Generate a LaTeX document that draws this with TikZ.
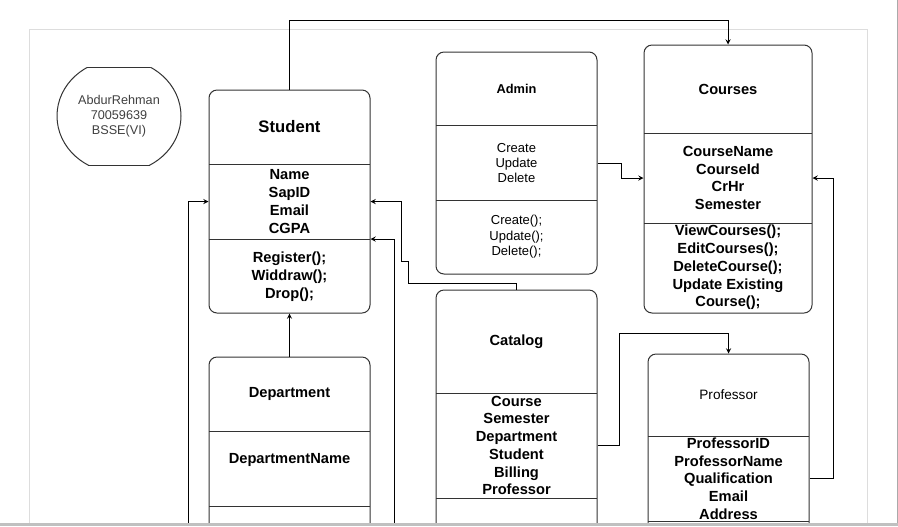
\documentclass[tikz,border=0pt]{standalone}
\usepackage{fontspec}
\setmainfont{Liberation Sans}
\usetikzlibrary{shapes,arrows,positioning,fit,calc}
\definecolor{boxgray}{RGB}{51,51,51}
\definecolor{framegray}{RGB}{221,221,221}
\definecolor{bargray}{RGB}{192,192,192}
\definecolor{edgegray}{RGB}{170,170,170}
\definecolor{authorgray}{RGB}{64,64,64}
\tikzset{
    % Define standard node styles
    classbox/.style={
        rectangle, draw=boxgray, line width=0.75pt, fill=white,
        rounded corners=6pt, inner sep=0pt
    },
    divider/.style={
        draw=boxgray, line width=0.75pt
    },
    bigtitle/.style={
        inner sep=0pt, align=center,
        font=\fontsize{12.5}{15}\selectfont\bfseries
    },
    classtitle/.style={
        inner sep=0pt, align=center,
        font=\fontsize{11}{13.3}\selectfont\bfseries
    },
    smalltitle/.style={
        inner sep=0pt, align=center,
        font=\fontsize{9.6}{11.6}\selectfont\bfseries
    },
    members/.style={
        inner sep=0pt, align=center,
        font=\fontsize{11}{13.3}\selectfont\bfseries
    },
    plainmembers/.style={
        inner sep=0pt, align=center,
        font=\fontsize{9.75}{11.6}\selectfont
    },
    arrow/.style={
        ->, >=stealth, line width=0.75pt, color=black
    }
}
\begin{document}
\begin{tikzpicture}[x=0.75pt, y=-0.75pt]
\useasboundingbox (0,0) rectangle (898,526);

\begin{scope}
\clip (0,0) rectangle (898,523);
\draw[framegray, line width=0.75pt] (29,29) rectangle (867,560);

% author badge
\begin{scope}
\clip (50,67) rectangle (190,165);
\draw[boxgray, line width=0.75pt] (119,116) ellipse [x radius=62, y radius=56.6];
\end{scope}
\draw[boxgray, line width=0.75pt] (88,67) -- (150,67);
\draw[boxgray, line width=0.75pt] (88,165) -- (150,165);
\node[plainmembers, text=authorgray, font=\fontsize{9.5}{11.3}\selectfont] (author) at (119,116) {AbdurRehman\\70059639\\BSSE(VI)};

% Student
\node[classbox, fit={(209,90) (370,313)}] (student) {};
\node[bigtitle] (studenttitle) at (289.5,127) {Student};
\node[members] (studentattr) at (289.5,201.5) {Name\\SapID\\Email\\CGPA};
\node[members] (studentops) at (289.5,276.5) {Register();\\Widdraw();\\Drop();};
\coordinate (studentdiv) at (209,239);
\draw[divider] (209,164) -- (370,164);
\draw[divider] (studentdiv) -- (370,239);

% Admin
\node[classbox, fit={(436,52) (597,274)}] (admin) {};
\node[smalltitle] (admintitle) at (516.5,88.5) {Admin};
\node[plainmembers] (adminattr) at (516.5,163) {Create\\Update\\Delete};
\node[plainmembers] (adminops) at (516.5,237) {Create();\\Update();\\Delete();};
\draw[divider] (436,125) -- (597,125);
\draw[divider] (436,200) -- (597,200);

% Courses
\node[classbox, fit={(644,45) (812,313)}] (courses) {};
\node[classtitle] (coursestitle) at (728,89) {Courses};
\node[members] (coursesattr) at (728,178) {CourseName\\CourseId\\CrHr\\Semester};
\node[members] (coursesops) at (728,267.5) {ViewCourses();\\EditCourses();\\DeleteCourse();\\Update Existing\\Course();};
\draw[divider] (644,133) -- (812,133);
\draw[divider] (644,223) -- (812,223);

% Catalog
\node[classbox, fit={(436,290) (597,560)}] (catalog) {};
\node[classtitle] (catalogtitle) at (516.5,341.5) {Catalog};
\node[members] (catalogattr) at (516.5,445.5) {Course\\Semester\\Department\\Student\\Billing\\Professor};
\draw[divider] (436,393) -- (597,393);
\draw[divider] (436,498) -- (597,498);

% Professor
\node[classbox, fit={(648,354) (809,560)}] (professor) {};
\node[plainmembers, font=\fontsize{10.2}{12}\selectfont] (professortitle) at (728.5,395) {Professor};
\node[members] (professorattr) at (728.5,478.5) {ProfessorID\\ProfessorName\\Qualification\\Email\\Address};
\draw[divider] (648,436) -- (809,436);
\draw[divider] (648,521) -- (809,521);

% Department
\node[classbox, fit={(209,357) (370,560)}] (department) {};
\node[classtitle] (departmenttitle) at (289.5,394) {Department};
\node[members] (departmentattr) at (289.5,460) {DepartmentName};
\draw[divider] (209,431) -- (370,431);
\draw[divider] (209,506) -- (370,506);

\coordinate (leftrail) at (188,560);
\coordinate (rightrail) at (394.5,560);

\draw[arrow] (student.north) -- ++(0,-69) -| (courses.north);
\draw[arrow] (admin.east |- adminattr) -- ++(24,0) |- (courses.west |- coursesattr);
\draw[arrow] (professor.east |- professorattr) -- ++(24,0) |- (courses.east |- coursesattr);
\draw[arrow] (catalog.east |- catalogattr) -- ++(22,0) -- ++(0,-112.5) -| (professor.north);
\draw[arrow] (department.north) -- (student.south);
\draw[arrow] (leftrail) |- (student.west |- studentattr);
\draw[arrow] (rightrail) |- (student.east |- studentdiv);
\draw[arrow] (catalog.north) |- ++(-108,-6) |- ++(-7.5,-22) |- (student.east |- studentattr);
\end{scope}

\draw[edgegray, line width=0.75pt] (897.3,0) -- (897.3,523);
\fill[bargray] (0,523) rectangle (898,526);

\end{tikzpicture}
\end{document}
